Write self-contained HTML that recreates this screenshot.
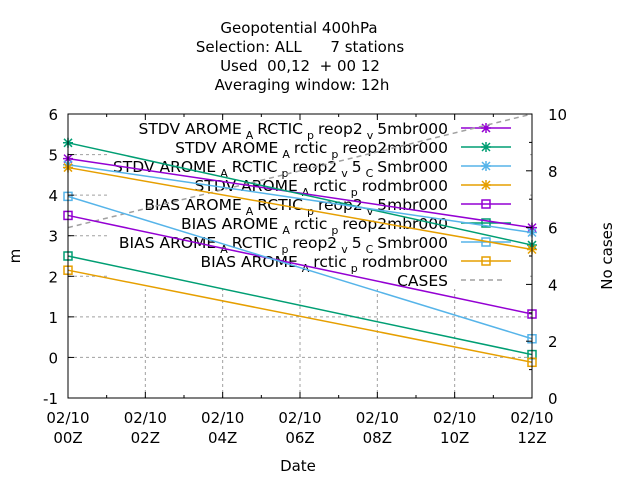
<!DOCTYPE html>
<html><head><meta charset="utf-8"><style>
body{margin:0;background:#fff}
svg{font-family:"DejaVu Sans","Liberation Sans",sans-serif;font-size:15px}
</style></head><body>
<svg id="c" width="640" height="480">
<g id="title" text-anchor="middle">
<text x="299" y="33">Geopotential 400hPa</text>
<text x="300" y="52" xml:space="preserve">Selection: ALL      7 stations</text>
<text x="300" y="71" xml:space="preserve">Used  00,12  + 00 12</text>
<text x="302" y="90">Averaging window: 12h</text>
</g>
<g id="grid"></g>
<rect x="108" y="117" width="420" height="172" fill="#fff"/>
<g id="legend"></g>
<g id="series"></g>
<g id="axes"></g>
<text x="20" y="256" text-anchor="middle" transform="rotate(-90 20 256)">m</text>
<text x="612" y="256" text-anchor="middle" transform="rotate(-90 612 256)">No cases</text>
<text x="298" y="471" text-anchor="middle">Date</text>
</svg>
<script>
const xLabels=["00Z","02Z","04Z","06Z","08Z","10Z","12Z"];
const xHours=[0,12];
const yTicks=[-1,0,1,2,3,4,5,6];
const y2Ticks=[0,2,4,6,8,10];
const seriesNames=["STDV AROME_ARCTIC_preop2_v5mbr000","STDV AROME_Arctic_reop2mbr000","STDV AROME_ARCTIC_preop2_v5_CSmbr000","STDV AROME_Arctic_prodmbr000","BIAS AROME_ARCTIC_preop2_v5mbr000","BIAS AROME_Arctic_preop2mbr000","BIAS AROME_ARCTIC_preop2_v5_CSmbr000","BIAS AROME_Arctic_prodmbr000"];
const seriesColors=["#9400d3","#009e73","#56b4e9","#e69f00","#9400d3","#009e73","#56b4e9","#e69f00"];
const stdvPurple=[4.9,3.2];
const stdvGreen=[5.29,2.77];
const stdvBlue=[4.75,3.08];
const stdvOrange=[4.68,2.66];
const biasPurple=[3.5,1.07];
const biasGreen=[2.5,0.07];
const biasBlue=[3.97,0.46];
const biasOrange=[2.15,-0.12];
const cases=[6,10];
const seriesValues=[stdvPurple,stdvGreen,stdvBlue,stdvOrange,biasPurple,biasGreen,biasBlue,biasOrange];
const L=68,R=532,T=114,B=398;
const X=h=>L+(R-L)*h/12;
const Y=v=>T+(6-v)*(B-T)/7;
const Y2=v=>B-(B-T)*v/10;
const NS="http://www.w3.org/2000/svg";
function mk(tag,at,parent){const e=document.createElementNS(NS,tag);for(const k in at)e.setAttribute(k,at[k]);parent.appendChild(e);return e;}
const grid=document.getElementById('grid'),axes=document.getElementById('axes'),ser=document.getElementById('series'),leg=document.getElementById('legend');
yTicks.forEach(v=>{
 if(v>-1&&v<6){const g=mk('line',{x1:L,x2:R,y1:Y(v),y2:Y(v),stroke:'#a0a0a0','stroke-dasharray':'3,3'},grid);
 
 }
 const t=mk('text',{x:L-10,y:Y(v)+6,'text-anchor':'end'},axes);t.textContent=v;
 
 
 mk('line',{x1:L,x2:L+6,y1:Y(v),y2:Y(v),stroke:'#000'},axes);
});
y2Ticks.forEach(v=>{
 const t=mk('text',{x:R+16,y:Y2(v)+6},axes);t.textContent=v;
 
 
 mk('line',{x1:R-6,x2:R,y1:Y2(v),y2:Y2(v),stroke:'#000'},axes);
 if(v<10)mk('line',{x1:R-3,x2:R,y1:Y2(v+1),y2:Y2(v+1),stroke:'#000'},axes);
});
xLabels.forEach((l,i)=>{
 const x=X(i*2);
 if(i>0&&i<6){const g=mk('line',{x1:x,x2:x,y1:T,y2:B,stroke:'#a0a0a0','stroke-dasharray':'3,3'},grid);
 
 }
 mk('line',{x1:x,x2:x,y1:B,y2:B-6,stroke:'#000'},axes);
 mk('line',{x1:x,x2:x,y1:T,y2:T+6,stroke:'#000'},axes);
 if(i<6){const xm=X(i*2+1);
  mk('line',{x1:xm,x2:xm,y1:B,y2:B-3,stroke:'#000'},axes);
  mk('line',{x1:xm,x2:xm,y1:T,y2:T+3,stroke:'#000'},axes);}
 const t=mk('text',{x:x,y:423,'text-anchor':'middle'},axes);t.textContent="02/10";
 
 
 const t2=mk('text',{x:x,y:443,'text-anchor':'middle'},axes);t2.textContent=l;
 
 
});
const fr=mk('rect',{x:L,y:T,width:R-L,height:B-T,fill:'none',stroke:'#000'},axes);


function marker(x,y,c,isBox,p){
 if(isBox){mk('rect',{x:x-4,y:y-4,width:8,height:8,fill:'none',stroke:c,'stroke-width':1.5},p);}
 else{mk('path',{d:`M${x-4} ${y-4}L${x+4} ${y+4}M${x-4} ${y+4}L${x+4} ${y-4}M${x-5} ${y}H${x+5}M${x} ${y-5}V${y+5}`,stroke:c,'stroke-width':1.5},p);}
}
const legText=[
 ["STDV AROME","A","RCTIC","p","reop2","v","5mbr000"],
 ["STDV AROME","A","rctic","p","reop2mbr000"],
 ["STDV AROME","A","RCTIC","p","reop2","v","5","C","Smbr000"],
 ["STDV AROME","A","rctic","p","rodmbr000"],
 ["BIAS AROME","A","RCTIC","p","reop2","v","5mbr000"],
 ["BIAS AROME","A","rctic","p","reop2mbr000"],
 ["BIAS AROME","A","RCTIC","p","reop2","v","5","C","Smbr000"],
 ["BIAS AROME","A","rctic","p","rodmbr000"]];
seriesNames.forEach((n,i)=>{
 const y=128+i*19;
 const g=mk('g',{},leg);
 
 
 const t=mk('text',{x:448,y:y+6,'text-anchor':'end','font-size':'15.5'},g);
 legText[i].forEach((s,j)=>{const ts=mk('tspan',{},t);ts.textContent=s;if(j%2==1){ts.setAttribute('font-size','11');ts.setAttribute('dy','5');ts.setAttribute('dx','4');}else if(j>0){ts.setAttribute('dy','-5');ts.setAttribute('dx','4');}});
 mk('line',{x1:461,x2:511,y1:y,y2:y,stroke:seriesColors[i],'stroke-width':1.5},g);
 marker(486,y,seriesColors[i],i>=4,g);
});
const cg=mk('g',{},leg);


const ct=mk('text',{x:448,y:286,'text-anchor':'end','font-size':'15.5'},cg);ct.textContent="CASES";
mk('line',{x1:461,x2:506,y1:280,y2:280,stroke:'#a0a0a0','stroke-width':1.5,'stroke-dasharray':'5,4'},cg);
const cl=mk('polyline',{points:xHours.map((h,i)=>X(h)+','+Y2(cases[i])).join(' '),fill:'none',stroke:'#a0a0a0','stroke-width':1.5,'stroke-dasharray':'5,4'},ser);


seriesValues.forEach((vals,i)=>{
 const g=mk('g',{},ser);
 
 
 mk('polyline',{points:xHours.map((h,k)=>X(h)+','+Y(vals[k])).join(' '),fill:'none',stroke:seriesColors[i],'stroke-width':1.5},g);
 xHours.forEach((h,k)=>marker(X(h),Y(vals[k]),seriesColors[i],i>=4,g));
});
</script>
</body></html>
